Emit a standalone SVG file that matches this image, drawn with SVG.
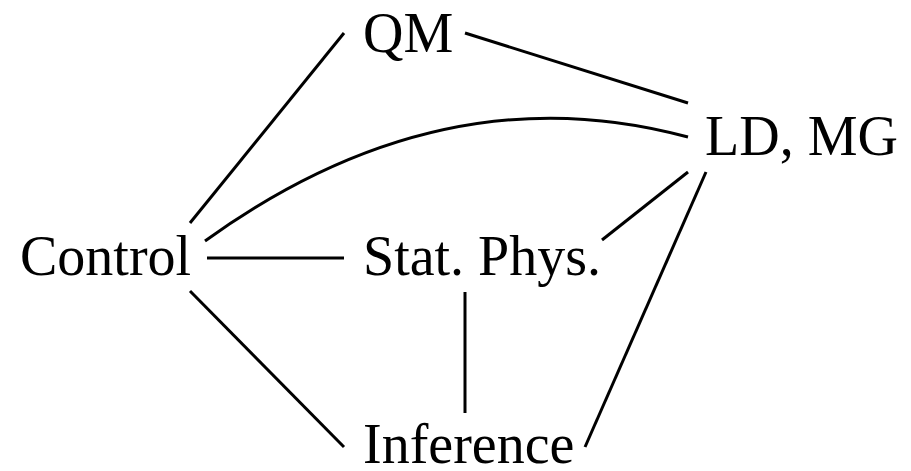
<svg xmlns="http://www.w3.org/2000/svg" width="911" height="471" viewBox="0 0 911 471">
<style>
text{font-family:"Liberation Serif","Times New Roman",serif;font-size:56px;fill:#000}
.e{stroke:#000;stroke-width:3;fill:none}
</style>
<rect width="911" height="471" fill="#fff"/>
<g id="connectors">
<line class="e" x1="344" y1="33" x2="190" y2="223"/>
<line class="e" x1="465" y1="33" x2="688" y2="103"/>
<path class="e" d="M205,241 Q442,70 688,137"/>
<line class="e" x1="207" y1="258" x2="344" y2="258"/>
<line class="e" x1="190" y1="291" x2="344" y2="447"/>
<line class="e" x1="688" y1="172" x2="602" y2="240"/>
<line class="e" x1="706" y1="172" x2="585" y2="447"/>
<line class="e" x1="465" y1="292" x2="465" y2="413"/>
</g>
<g id="qm"><text x="363" y="52">QM</text></g>
<g id="ldmg"><text x="705" y="155">LD, MG</text></g>
<g id="control"><text x="20" y="275">Control</text></g>
<g id="statphys"><text x="363" y="275">Stat. Phys.</text></g>
<g id="inference"><text x="363" y="463">Inference</text></g>
</svg>
